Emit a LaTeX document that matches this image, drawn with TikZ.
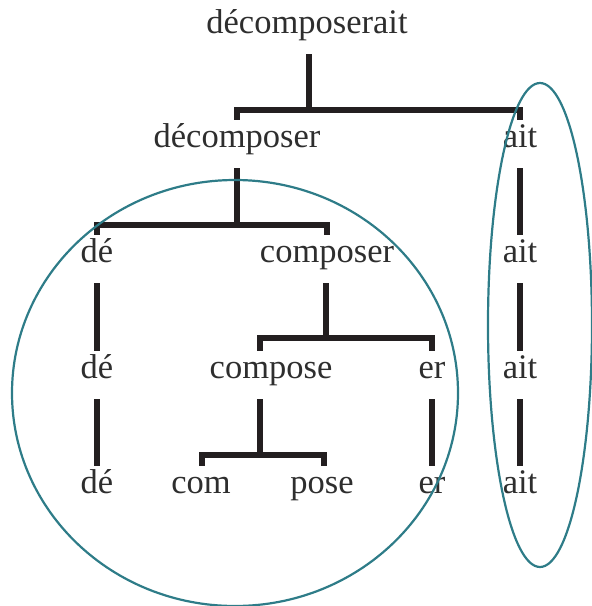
\documentclass[tikz,border=0pt]{standalone}
\usepackage{xcolor}
\usepackage{fontspec}
\setmainfont{Liberation Serif}
\usepackage{tikz}
\definecolor{ink}{HTML}{231F20}
\definecolor{wordgray}{HTML}{2E2E2E}
\definecolor{teal}{HTML}{2E7C88}

\begin{document}
\begin{tikzpicture}[
  x=1pt, y=1pt,
  word/.style={inner sep=0pt, text height=27pt, text depth=21pt, anchor=base, text=wordgray, font=\fontsize{34.5}{36}\selectfont},
  branch/.style={draw=ink, line width=6.5pt, line join=miter},
  ring/.style={draw=teal, line width=2.2pt}
]
  \useasboundingbox (0,0) rectangle (592,-606);
  % words, row by row
  \node[word] (root) at (307,-33) {décomposerait};
  \node[word] (decomposer) at (237,-147) {décomposer};
  \node[word] (ait1) at (520,-147) {ait};
  \node[word] (de2) at (97,-262) {dé};
  \node[word] (composer) at (327,-262) {composer};
  \node[word] (ait2) at (520,-262) {ait};
  \node[word] (de3) at (97,-378) {dé};
  \node[word] (compose) at (271,-378) {compose};
  \node[word] (er3) at (432,-378) {er};
  \node[word] (ait3) at (520,-378) {ait};
  \node[word] (de4) at (97,-493) {dé};
  \node[word] (com) at (201,-493) {com};
  \node[word] (pose) at (322,-493) {pose};
  \node[word] (er4) at (432,-493) {er};
  \node[word] (ait4) at (520,-493) {ait};
  % joints of the branches
  \coordinate (j0) at (309,-110);
  \coordinate (j1) at (237,-225);
  \coordinate (j2) at (326,-338);
  \coordinate (j3) at (260,-455);
  % branches
  \draw[branch] (j0 |- root.south) -- (j0);
  \draw[branch] (decomposer.north) |- (j0) -| (ait1.north);
  \draw[branch] (decomposer.south) -- (j1);
  \draw[branch] (de2.north) |- (j1) -| (composer.north);
  \draw[branch] (j2 |- composer.south) -- (j2);
  \draw[branch] ([xshift=-11pt]compose.north) |- (j2) -| (er3.north);
  \draw[branch] ([xshift=-11pt]compose.south) -- (j3);
  \draw[branch] ([xshift=1pt]com.north) |- (j3) -| ([xshift=2pt]pose.north);
  \draw[branch] (de2.south) -- (de3.north);
  \draw[branch] (de3.south) -- (de4.north);
  \draw[branch] (er3.south) -- (er4.north);
  \draw[branch] (ait1.south) -- (ait2.north);
  \draw[branch] (ait2.south) -- (ait3.north);
  \draw[branch] (ait3.south) -- (ait4.north);
  % the two groupings
  \draw[ring] (235,-393) ellipse [x radius=223, y radius=213];
  \draw[ring] (540,-325) ellipse [x radius=52, y radius=242];
\end{tikzpicture}
\end{document}
